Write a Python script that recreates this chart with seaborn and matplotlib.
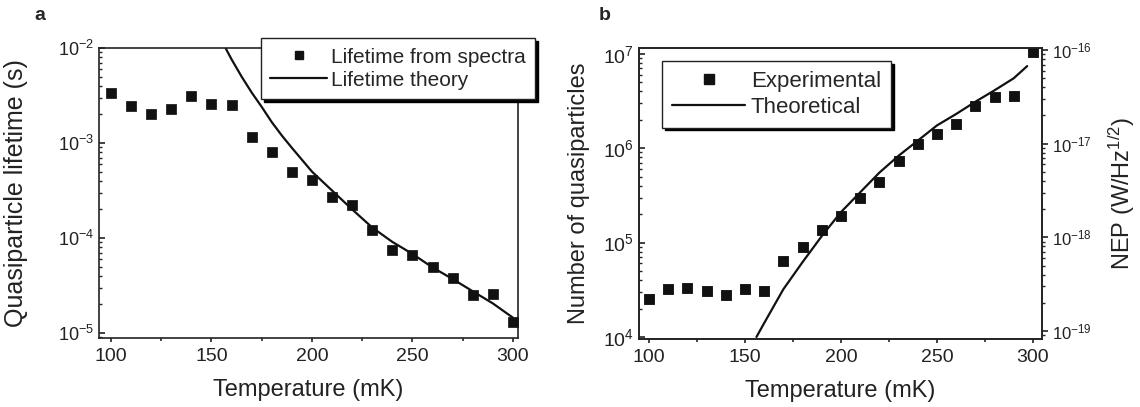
import numpy as np
import pandas as pd
import matplotlib
matplotlib.use("Agg")
import matplotlib.pyplot as plt
import matplotlib.ticker as mticker
from matplotlib.lines import Line2D
import seaborn as sns

# ---------------- data ----------------
temp_exp = [100, 110, 120, 130, 140, 150, 160, 170, 180, 190, 200,
            210, 220, 230, 240, 250, 260, 270, 280, 290, 300]
lifetime_exp = [3.4e-3, 2.45e-3, 2.0e-3, 2.3e-3, 3.1e-3, 2.6e-3, 2.5e-3,
                1.15e-3, 8.1e-4, 5.0e-4, 4.1e-4, 2.7e-4, 2.2e-4, 1.2e-4,
                7.4e-5, 6.7e-5, 4.9e-5, 3.8e-5, 2.5e-5, 2.6e-5, 1.3e-5]
temp_theory_a = [157, 160, 165, 170, 175, 180, 185, 190, 200, 210, 220,
                 230, 240, 250, 260, 270, 280, 290, 300]
lifetime_theory = [1.0e-2, 7.6e-3, 5.0e-3, 3.4e-3, 2.4e-3, 1.66e-3,
                   1.2e-3, 8.9e-4, 5.0e-4, 3.16e-4, 2.0e-4, 1.29e-4,
                   9.1e-5, 6.8e-5, 4.9e-5, 3.7e-5, 2.75e-5, 2.05e-5,
                   1.45e-5]

nqp_exp = [2.5e4, 3.2e4, 3.3e4, 3.1e4, 2.8e4, 3.2e4, 3.1e4, 6.3e4, 8.9e4,
           1.35e5, 1.9e5, 3.0e5, 4.4e5, 7.3e5, 1.1e6, 1.4e6, 1.8e6, 2.8e6,
           3.5e6, 3.6e6, 1.05e7]
temp_theory_b = [156, 160, 170, 180, 190, 200, 210, 220, 230, 240, 250,
                 260, 270, 280, 290, 297]
nqp_theory = [1.0e4, 1.4e4, 3.2e4, 6.2e4, 1.17e5, 2.1e5, 3.4e5, 5.5e5,
              8.3e5, 1.2e6, 1.74e6, 2.3e6, 3.1e6, 4.1e6, 5.5e6, 7.4e6]

xticks = [100, 150, 200, 250, 300]
yticks_a = [1e-5, 1e-4, 1e-3, 1e-2]
yticks_b = [1e4, 1e5, 1e6, 1e7]
yticks_nep = [1e-19, 1e-18, 1e-17, 1e-16]

df_a = pd.DataFrame({"T": temp_exp, "tau": lifetime_exp})
df_at = pd.DataFrame({"T": temp_theory_a, "tau": lifetime_theory})
df_b = pd.DataFrame({"T": temp_exp, "N": nqp_exp})
df_bt = pd.DataFrame({"T": temp_theory_b, "N": nqp_theory})

# ---------------- style ----------------
sns.set_theme(style="ticks")
plt.rcParams["font.family"] = ["Liberation Sans", "DejaVu Sans"]
plt.rcParams["mathtext.fontset"] = "custom"
plt.rcParams["mathtext.rm"] = "Liberation Sans"
plt.rcParams["mathtext.it"] = "Liberation Sans:italic"
plt.rcParams["mathtext.bf"] = "Liberation Sans:bold"
plt.rcParams["axes.linewidth"] = 1.2
plt.rcParams["axes.edgecolor"] = "#222222"

fig = plt.figure(figsize=(11.4, 4.07), dpi=100)
ax_a = fig.add_axes([0.0868, 0.1695, 0.3675, 0.7125])
ax_b = fig.add_axes([0.5605, 0.167, 0.3535, 0.715])

TICK = 14
LAB = 17


def style_x(ax):
    ax.set_xticks(xticks)
    ax.xaxis.set_minor_locator(mticker.MultipleLocator(25))
    ax.tick_params(axis="x", which="major", direction="out", length=3,
                   width=1.2, labelsize=TICK, colors="#222222", pad=4)
    ax.tick_params(axis="x", which="minor", direction="out", length=2,
                   width=1.2)
    ax.set_xlabel("Temperature (mK)", fontsize=LAB, color="#222222")
    ax.xaxis.set_label_coords(0.5, -0.14)


def style_logy(ax, ticks):
    ax.yaxis.set_major_locator(mticker.FixedLocator(ticks))
    ax.yaxis.set_major_formatter(mticker.LogFormatterSciNotation())
    ax.yaxis.set_minor_locator(mticker.LogLocator(base=10, subs=np.arange(2, 10), numticks=10))
    ax.yaxis.set_minor_formatter(mticker.NullFormatter())


# ---------------- panel a ----------------
ax_a.set_yscale("log")
sns.lineplot(data=df_at, x="T", y="tau", ax=ax_a, color="#111111",
             linewidth=1.6, legend=False)
sns.scatterplot(data=df_a, x="T", y="tau", ax=ax_a, marker="s", s=42,
                color="#111111", edgecolor="#111111", legend=False, zorder=3)
ax_a.set_xlim(94, 302.5)
ax_a.set_ylim(8.85e-6, 1e-2)
style_x(ax_a)
style_logy(ax_a, yticks_a)
ax_a.tick_params(axis="y", which="major", direction="in", length=4,
                 width=1.2, labelsize=TICK - 1, colors="#222222")
ax_a.tick_params(axis="y", which="minor", direction="in", length=2, width=1)
ax_a.set_ylabel("Quasiparticle lifetime (s)", fontsize=LAB + 1, color="#222222")
ax_a.yaxis.set_label_coords(-0.17, 0.5)

handles_a = [
    Line2D([], [], marker="s", linestyle="none", color="#111111", markersize=6),
    Line2D([], [], color="#111111", linewidth=1.6),
]
leg_a = ax_a.legend(handles_a, ["Lifetime from spectra", "Lifetime theory"],
                    loc="upper left", bbox_to_anchor=(0.387, 1.034),
                    fontsize=15, frameon=True, fancybox=False,
                    shadow={"color": "black", "alpha": 1.0},
                    edgecolor="#222222", framealpha=1, borderpad=0.45,
                    labelspacing=0.2, handlelength=2.7, handletextpad=0.2,
                    borderaxespad=0)
leg_a.get_frame().set_linewidth(1.0)
leg_a.set_zorder(5)

# ---------------- panel b ----------------
ax_b.set_yscale("log")
sns.lineplot(data=df_bt, x="T", y="N", ax=ax_b, color="#111111",
             linewidth=1.6, legend=False)
sns.scatterplot(data=df_b, x="T", y="N", ax=ax_b, marker="s", s=62,
                color="#111111", edgecolor="#111111", legend=False, zorder=3)
ax_b.set_xlim(94.8, 304.7)
ax_b.set_ylim(0.95e4, 1.15e7)
style_x(ax_b)
style_logy(ax_b, yticks_b)
ax_b.tick_params(axis="y", which="major", direction="in", length=4,
                 width=1.2, labelsize=TICK, colors="#222222")
ax_b.tick_params(axis="y", which="minor", direction="in", length=2, width=1)
ax_b.set_ylabel("Number of quasiparticles", fontsize=LAB, color="#222222")
ax_b.yaxis.set_label_coords(-0.122, 0.5)

ax_r = ax_b.twinx()
ax_r.set_yscale("log")
ax_r.set_ylim(0.82e-19, 1.05e-16)
style_logy(ax_r, yticks_nep)
ax_r.tick_params(axis="y", which="major", direction="out", length=4,
                 width=1.2, labelsize=TICK - 2, colors="#222222")
ax_r.tick_params(axis="y", which="minor", direction="out", length=2, width=1)
ax_r.set_ylabel("NEP (W/Hz$^{1/2}$)", fontsize=LAB, color="#222222")
ax_r.yaxis.set_label_coords(1.16, 0.5)

handles_b = [
    Line2D([], [], marker="s", linestyle="none", color="#111111", markersize=7.5),
    Line2D([], [], color="#111111", linewidth=1.6),
]
leg_b = ax_b.legend(handles_b, ["Experimental", "Theoretical"],
                    loc="upper left", bbox_to_anchor=(0.057, 0.955),
                    fontsize=16, frameon=True, fancybox=False,
                    shadow={"color": "black", "alpha": 1.0},
                    edgecolor="#222222", framealpha=1, borderpad=0.45,
                    labelspacing=0.2, handlelength=3.3, handletextpad=0.25,
                    borderaxespad=0)
leg_b.get_frame().set_linewidth(1.0)

# ---------------- panel letters ----------------
fig.text(0.035, 0.963, "a", fontsize=14, fontweight="bold", ha="center", va="center")
fig.text(0.53, 0.963, "b", fontsize=14, fontweight="bold", ha="center", va="center")

fig.savefig("out.png", dpi=100)
